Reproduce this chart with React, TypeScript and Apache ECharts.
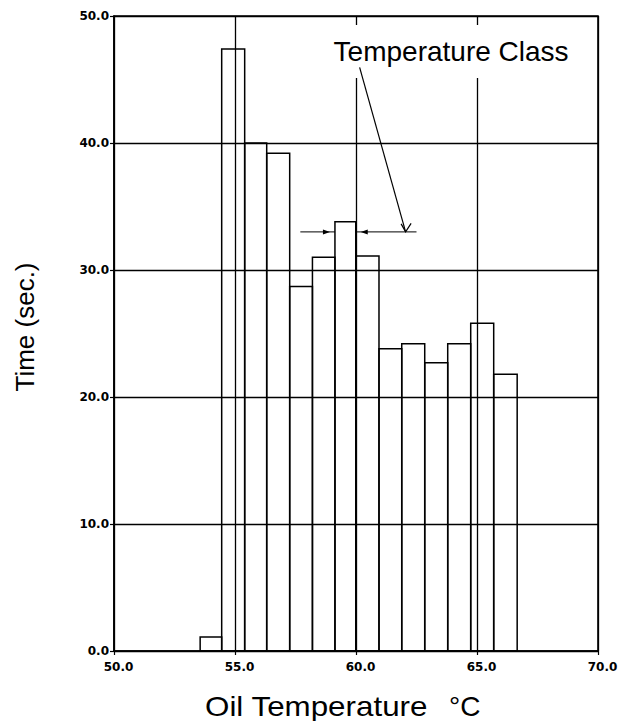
import React, { useEffect, useRef } from "react";
import * as echarts from "echarts";

// Class edges (°C) and times (sec.)
const classEdges = [53.56, 54.45, 55.4, 56.31, 57.26, 58.2, 59.13, 59.99, 60.95, 61.89, 62.84, 63.79, 64.74, 65.69, 66.66];
const times = [1.1, 47.4, 40.0, 39.2, 28.7, 31.0, 33.8, 31.1, 23.8, 24.2, 22.7, 24.2, 25.8, 21.8];
const xTicks = [50, 55, 60, 65, 70];
const yTicks = [0, 10, 20, 30, 40, 50];

const FONT = "'Liberation Sans', Arial, sans-serif";
const TICKFONT = "'DejaVu Sans', sans-serif";

export default function App() {
  const ref = useRef<HTMLDivElement>(null);
  useEffect(() => {
    const chart = echarts.init(ref.current!, null, { renderer: "svg" });
    const barData = times.map((t, i) => [classEdges[i], classEdges[i + 1], t]);
    chart.setOption({
      animation: false,
      backgroundColor: "#fff",
      grid: { left: 114, right: 23, top: 16, bottom: 70, show: true, borderColor: "#000", borderWidth: 1.6, backgroundColor: "transparent" },
      xAxis: {
        type: "value",
        min: xTicks[0],
        max: xTicks[xTicks.length - 1],
        interval: 5,
        axisLine: { show: true, lineStyle: { color: "#000", width: 1.6 } },
        axisTick: { show: true, length: 4, lineStyle: { color: "#000", width: 1.2 } },
        splitLine: { show: true, lineStyle: { color: "#000", width: 1.3 } },
        axisLabel: { formatter: (v: number) => v.toFixed(1), color: "#000", fontFamily: TICKFONT, fontWeight: "bold", fontSize: 12, margin: 10, padding: [0, 0, 0, 9] },
      },
      yAxis: {
        type: "value",
        min: yTicks[0],
        max: yTicks[yTicks.length - 1],
        interval: 10,
        axisLine: { show: true, lineStyle: { color: "#000", width: 1.6 } },
        axisTick: { show: true, length: 4, lineStyle: { color: "#000", width: 1.2 } },
        splitLine: { show: true, lineStyle: { color: "#000", width: 1.3 } },
        axisLabel: { formatter: (v: number) => v.toFixed(1), color: "#000", fontFamily: TICKFONT, fontWeight: "bold", fontSize: 12, margin: 5 },
      },
      series: [
        {
          type: "custom",
          data: barData,
          encode: { x: [0, 1], y: 2 },
          renderItem: (params: any, api: any) => {
            const p0 = api.coord([api.value(0), api.value(2)]);
            const p1 = api.coord([api.value(1), 0]);
            return {
              type: "rect",
              shape: { x: p0[0], y: p0[1], width: p1[0] - p0[0], height: p1[1] - p0[1] },
              style: { fill: "none", stroke: "#000", lineWidth: 1.5 },
            };
          },
        },
      ],
    });

    const P = (x: number, y: number) => chart.convertToPixel({ gridIndex: 0 }, [x, y]) as number[];
    // annotation (class-width dimension for the 59.13–59.99 class)
    const dimY = 33.0;
    const leftA = P(57.7, dimY);
    const barL = P(classEdges[6], dimY);
    const barR = P(classEdges[7], dimY);
    const rightA = P(62.5, dimY);
    const leaderStart = P(60.15, 45.96);
    const leaderEnd = P(62.05, 33.0);
    const txt = P(58.95, 47.2);
    const ah = 7;
    chart.setOption({
      graphic: [
        {
          type: "text", x: txt[0], y: txt[1], z: 10,
          style: { text: "Temperature Class", font: `28px ${FONT}`, fill: "#000", align: "left", verticalAlign: "middle", backgroundColor: "#fff", padding: [8, 3, 17, 3] },
        },
        { type: "line", z: 20, shape: { x1: leftA[0], y1: leftA[1], x2: barL[0], y2: barL[1] }, style: { stroke: "#000", lineWidth: 1 } },
        { type: "polygon", z: 20, shape: { points: [[barL[0] - 5, barL[1]], [barL[0] - 5 - ah, barL[1] - 2.5], [barL[0] - 5 - ah, barL[1] + 2.5]] }, style: { fill: "#000" } },
        { type: "line", z: 20, shape: { x1: barR[0], y1: barR[1], x2: rightA[0], y2: rightA[1] }, style: { stroke: "#000", lineWidth: 1 } },
        { type: "polygon", z: 20, shape: { points: [[barR[0] + 5, barR[1]], [barR[0] + 5 + ah, barR[1] - 2.5], [barR[0] + 5 + ah, barR[1] + 2.5]] }, style: { fill: "#000" } },
        { type: "line", z: 20, shape: { x1: leaderStart[0], y1: leaderStart[1], x2: leaderEnd[0], y2: leaderEnd[1] }, style: { stroke: "#000", lineWidth: 1.2 } },
        { type: "polyline", z: 20, shape: { points: [[leaderEnd[0] - 4.5, leaderEnd[1] - 8], [leaderEnd[0], leaderEnd[1]], [leaderEnd[0] + 5.5, leaderEnd[1] - 8.5]] }, style: { stroke: "#000", lineWidth: 1.2, fill: "none" } },
        {
          type: "text", x: 25, y: 327, rotation: Math.PI / 2,
          style: { text: "Time (sec.)", font: `26px ${FONT}`, fill: "#000", align: "center", verticalAlign: "middle" },
        },
        {
          type: "text", x: 205, y: 706, scaleX: 1.12,
          style: { text: "Oil Temperature", font: `28px ${FONT}`, fill: "#000", align: "left", verticalAlign: "middle" },
        },
        {
          type: "text", x: 449, y: 706,
          style: { text: "°C", font: `28px ${FONT}`, fill: "#000", align: "left", verticalAlign: "middle" },
        },
      ],
    });
    return () => chart.dispose();
  }, []);
  return <div ref={ref} style={{ position: "fixed", left: 0, top: 0, width: 621, height: 721 }} />;
}
